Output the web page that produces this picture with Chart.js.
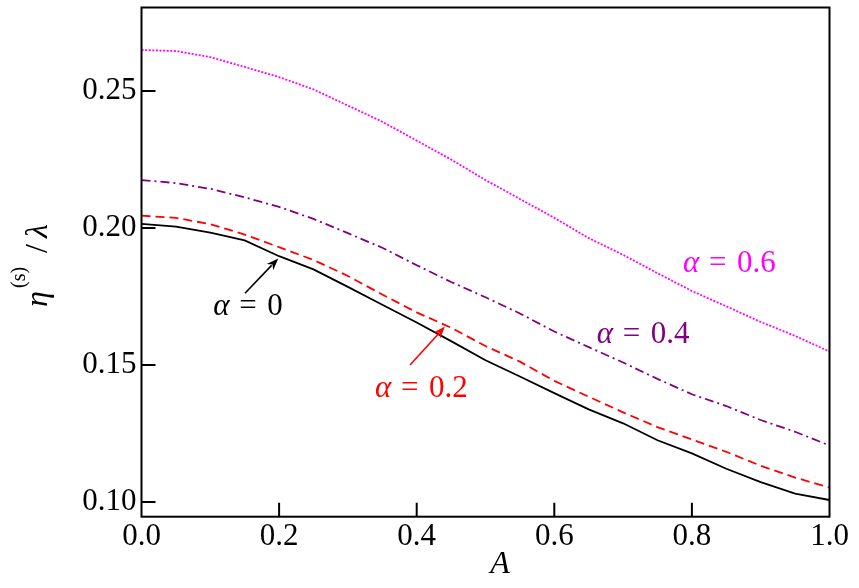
<!DOCTYPE html>
<html>
<head>
<meta charset="utf-8">
<script src="https://cdn.jsdelivr.net/npm/chart.js@4.4.1/dist/chart.umd.min.js"></script>
<style>
  html, body { margin: 0; padding: 0; background: #fff; }
</style>
</head>
<body>
<canvas id="etaChart" width="859" height="588"></canvas>
<script>
// A values (x axis)
const A = [0, 0.05, 0.1, 0.15, 0.2, 0.25, 0.3, 0.35, 0.4, 0.45, 0.5,
           0.55, 0.6, 0.65, 0.7, 0.75, 0.8, 0.85, 0.9, 0.95, 1.0];

// eta^(s)/lambda for each alpha
const alpha0  = [0.2015, 0.2005, 0.1983, 0.1955, 0.1897, 0.1849, 0.1785, 0.1720, 0.1655, 0.1587, 0.1517,
                 0.1458, 0.1397, 0.1338, 0.1287, 0.1225, 0.1177, 0.1121, 0.1072, 0.1030, 0.1007];
const alpha02 = [0.2045, 0.2037, 0.2014, 0.1976, 0.1930, 0.1883, 0.1825, 0.1757, 0.1692, 0.1636, 0.1569,
                 0.1512, 0.1442, 0.1384, 0.1327, 0.1273, 0.1228, 0.1183, 0.1132, 0.1089, 0.1052];
const alpha04 = [0.2175, 0.2164, 0.2143, 0.2112, 0.2077, 0.2033, 0.1981, 0.1928, 0.1864, 0.1803, 0.1747,
                 0.1688, 0.1622, 0.1565, 0.1509, 0.1449, 0.1393, 0.1350, 0.1299, 0.1256, 0.1206];
const alpha06 = [0.2650, 0.2646, 0.2624, 0.2588, 0.2551, 0.2506, 0.2447, 0.2388, 0.2319, 0.2250, 0.2175,
                 0.2106, 0.2037, 0.1963, 0.1902, 0.1835, 0.1770, 0.1714, 0.1657, 0.1606, 0.1549];

// labelled ticks
const xLabelled = [0, 0.2, 0.4, 0.6, 0.8, 1.0];
const yLabelled = [0.10, 0.15, 0.20, 0.25];

// curve labels (anchor in data coords: left edge / baseline)
const notes = [
  {text: '0',   color: '#000000', A: 0.1044, v: 0.1683},
  {text: '0.2', color: '#ff0000', A: 0.3394, v: 0.1384},
  {text: '0.4', color: '#800080', A: 0.6616, v: 0.1579},
  {text: '0.6', color: '#ff00ff', A: 0.7871, v: 0.1841}
];
const arrows = [
  {color: '#000000', from: [0.1504, 0.1762], to: [0.1988, 0.1889]},
  {color: '#ff0000', from: [0.3903, 0.1500], to: [0.4411, 0.1640]}
];

const isNear = (v, list) => list.some(t => Math.abs(t - v) < 1e-6);
const pts = arr => arr.map((y, i) => ({x: A[i], y: y}));
const serif = '"Liberation Serif", "Times New Roman", serif';

const decorations = {
  id: 'decorations',
  afterDraw(chart) {
    const {ctx, chartArea: ca, scales: {x, y}} = chart;
    ctx.save();

    // frame + inward ticks
    ctx.strokeStyle = '#000';
    ctx.lineWidth = 2;
    ctx.beginPath();
    x.ticks.forEach(t => {
      const px = x.getPixelForValue(t.value);
      if (px < ca.left + 2 || px > ca.right - 2) return;
      const len = t.label != null ? 14 : 7;
      ctx.moveTo(px, ca.bottom);
      ctx.lineTo(px, ca.bottom - len);
    });
    y.ticks.forEach(t => {
      const py = y.getPixelForValue(t.value);
      if (py < ca.top + 2 || py > ca.bottom - 2) return;
      const len = t.label != null ? 14 : 7;
      ctx.moveTo(ca.left, py);
      ctx.lineTo(ca.left + len, py);
    });
    ctx.stroke();
    ctx.strokeRect(ca.left, ca.top, ca.right - ca.left, ca.bottom - ca.top);

    // x title
    ctx.fillStyle = '#000';
    ctx.textAlign = 'center';
    ctx.textBaseline = 'alphabetic';
    ctx.font = 'italic 32px ' + serif;
    ctx.fillText('A', 500, 573);

    // y title: eta^(s)/lambda, rotated
    ctx.save();
    ctx.translate(46.7, 307);
    ctx.rotate(-Math.PI / 2);
    ctx.textAlign = 'left';
    ctx.font = 'italic 32px ' + serif;
    ctx.fillText('η', 0, 0);
    ctx.font = '20px ' + serif;
    ctx.fillText('(s)', 19, -22);
    ctx.font = '32px ' + serif;
    ctx.fillText('/', 54, 0);
    ctx.font = 'italic 32px ' + serif;
    ctx.fillText('λ', 69, 0);
    ctx.restore();

    // arrows
    arrows.forEach(a => {
      const x0 = x.getPixelForValue(a.from[0]), y0 = y.getPixelForValue(a.from[1]);
      const x1 = x.getPixelForValue(a.to[0]), y1 = y.getPixelForValue(a.to[1]);
      const ang = Math.atan2(y1 - y0, x1 - x0);
      const hl = 12, hw = 4.5;
      ctx.strokeStyle = a.color;
      ctx.fillStyle = a.color;
      ctx.lineWidth = 1.6;
      ctx.beginPath();
      ctx.moveTo(x0, y0);
      ctx.lineTo(x1 - Math.cos(ang) * hl * 0.8, y1 - Math.sin(ang) * hl * 0.8);
      ctx.stroke();
      ctx.beginPath();
      ctx.moveTo(x1, y1);
      ctx.lineTo(x1 - Math.cos(ang) * hl - Math.sin(ang) * hw, y1 - Math.sin(ang) * hl + Math.cos(ang) * hw);
      ctx.lineTo(x1 - Math.cos(ang) * hl * 0.7, y1 - Math.sin(ang) * hl * 0.7);
      ctx.lineTo(x1 - Math.cos(ang) * hl + Math.sin(ang) * hw, y1 - Math.sin(ang) * hl - Math.cos(ang) * hw);
      ctx.closePath();
      ctx.fill();
    });

    // curve labels
    ctx.textAlign = 'left';
    notes.forEach(n => {
      const px = x.getPixelForValue(n.A), py = y.getPixelForValue(n.v);
      ctx.fillStyle = n.color;
      ctx.font = 'italic 31px ' + serif;
      ctx.fillText('α', px, py);
      ctx.font = '31px ' + serif;
      ctx.fillText('=', px + 26, py);
      ctx.fillText(n.text, px + 54, py);
    });

    ctx.restore();
  }
};

new Chart(document.getElementById('etaChart'), {
  type: 'line',
  data: {
    datasets: [
      { label: 'α = 0',   data: pts(alpha0),  borderColor: '#000000', borderWidth: 1.8 },
      { label: 'α = 0.2', data: pts(alpha02), borderColor: '#ff0000', borderWidth: 1.8, borderDash: [9, 5] },
      { label: 'α = 0.4', data: pts(alpha04), borderColor: '#800080', borderWidth: 1.8, borderDash: [9, 4, 2, 4] },
      { label: 'α = 0.6', data: pts(alpha06), borderColor: '#ff00ff', borderWidth: 1.8, borderDash: [2, 1.6] }
    ]
  },
  options: {
    responsive: false,
    animation: false,
    devicePixelRatio: 1,
    layout: { padding: { top: 7.5, right: 29.5, left: 0, bottom: 0 } },
    elements: { point: { radius: 0 }, line: { tension: 0, fill: false } },
    plugins: { legend: { display: false }, tooltip: { enabled: false } },
    scales: {
      x: {
        type: 'linear', min: 0, max: 1,
        grid: { display: false, drawTicks: false },
        border: { display: false },
        ticks: {
          stepSize: 0.04, autoSkip: false, maxRotation: 0, padding: 2, color: '#000',
          font: { family: serif, size: 31 },
          callback: v => isNear(v, xLabelled) ? v.toFixed(1) : null
        },
        afterFit: s => { s.height = 71.3; s.paddingLeft = 0; s.paddingRight = 0; }
      },
      y: {
        type: 'linear', min: 0.0946, max: 0.2805,
        grid: { display: false, drawTicks: false },
        border: { display: false },
        ticks: {
          stepSize: 0.01, autoSkip: false, includeBounds: false, padding: 5, color: '#000',
          font: { family: serif, size: 31 },
          callback: v => isNear(v, yLabelled) ? v.toFixed(2) : null
        },
        afterFit: s => { s.width = 141.5; s.paddingTop = 0; s.paddingBottom = 0; }
      }
    }
  },
  plugins: [decorations]
});
</script>
</body>
</html>
